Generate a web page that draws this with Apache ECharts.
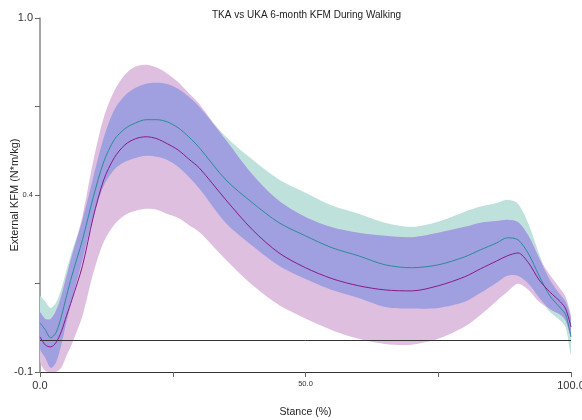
<!DOCTYPE html>
<html>
<head>
<meta charset="utf-8">
<script src="https://cdn.jsdelivr.net/npm/echarts@6/dist/echarts.min.js"></script>
<style>html,body{margin:0;padding:0;background:#fff;}#c{width:582px;height:420px;}</style>
</head>
<body>
<div id="c"></div>
<script>
// Stance (%)
var stance = [0,1,2,3,4,5,6,8,10,12,14,16,18,20,22,24,26,28,30,35,40,45,50,55,60,65,70,75,80,83,86,88,90,92,94,96,98,99,100];
// TKA (teal) mean and SD
var tkaMean = [0.053,0.031,0.006,0.022,0.071,0.137,0.199,0.311,0.441,0.553,0.622,0.656,0.674,0.684,0.684,0.677,0.659,0.631,0.597,0.497,0.426,0.364,0.323,0.286,0.261,0.233,0.224,0.233,0.258,0.280,0.301,0.317,0.311,0.267,0.199,0.137,0.099,0.078,0.009];
var tkaSD = [0.081,0.087,0.093,0.093,0.087,0.081,0.075,0.062,0.062,0.075,0.093,0.103,0.109,0.112,0.115,0.118,0.121,0.124,0.127,0.134,0.134,0.134,0.134,0.131,0.131,0.131,0.127,0.134,0.140,0.134,0.124,0.118,0.112,0.093,0.068,0.050,0.040,0.040,0.056];
// UKA (purple) mean and SD
var ukaMean = [0.009,-0.016,-0.022,-0.009,0.025,0.075,0.124,0.230,0.379,0.497,0.566,0.606,0.625,0.631,0.625,0.609,0.590,0.562,0.534,0.435,0.342,0.270,0.224,0.190,0.168,0.155,0.152,0.168,0.196,0.221,0.245,0.261,0.270,0.239,0.186,0.149,0.118,0.096,0.040];
var ukaSD = [0.075,0.081,0.087,0.099,0.112,0.124,0.137,0.155,0.174,0.193,0.208,0.218,0.224,0.224,0.221,0.218,0.211,0.205,0.199,0.186,0.172,0.162,0.158,0.160,0.165,0.168,0.167,0.165,0.155,0.143,0.124,0.112,0.096,0.084,0.068,0.053,0.040,0.037,0.031];
// axis tick labels
var yTickValues = [-0.1, 0.175, 0.45, 0.725, 1.0];
var yTickLabels = {'-0.1':'{b|-0.1}', '0.45':'{s|0.4}', '1':'{b|1.0}'};
var xTickValues = [0, 25, 50, 75, 100];
var xTickLabels = {'0':'{b|0.0}', '50':'{s|50.0}', '100':'{b|100.0}'};

var YMIN = -0.1, YMAX = 1.0;
var tkaLo = [], tkaHi = [], ukaLo = [], ukaHi = [], ovLo = [], ovHi = [];
for (var i = 0; i < stance.length; i++) {
  var a1 = tkaMean[i] - tkaSD[i], a2 = tkaMean[i] + tkaSD[i];
  var b1 = ukaMean[i] - ukaSD[i], b2 = ukaMean[i] + ukaSD[i];
  tkaLo.push(a1); tkaHi.push(a2); ukaLo.push(b1); ukaHi.push(b2);
  var lo = Math.max(a1, b1), hi = Math.min(a2, b2);
  if (hi < lo) { var m = (hi + lo) / 2; hi = m; lo = m; }
  ovLo.push(lo); ovHi.push(hi);
}
function pairs(arr) { return stance.map(function (x, i) { return [x, arr[i]]; }); }
var SM = 0.3;
function band(name, hi, lo, color, z) {
  return {
    name: name, type: 'custom', silent: true, z: z, clip: true,
    data: [0],
    renderItem: function (params, api) {
      var pts = [];
      for (var k = 0; k < stance.length; k++) {
        pts.push(api.coord([stance[k], Math.min(YMAX, Math.max(YMIN, hi[k]))]));
      }
      for (var k2 = stance.length - 1; k2 >= 0; k2--) {
        pts.push(api.coord([stance[k2], Math.min(YMAX, Math.max(YMIN, lo[k2]))]));
      }
      return {type: 'polygon', shape: {points: pts, smooth: SM}, style: {fill: color, stroke: null}};
    }
  };
}

var chart = echarts.init(document.getElementById('c'), null, {renderer: 'canvas'});
chart.setOption({
  animation: false,
  backgroundColor: '#ffffff',
  title: {text: 'TKA vs UKA 6-month KFM During Walking', left: 207, top: 5,
    textStyle: {fontFamily: 'Liberation Sans', fontSize: 10, fontWeight: 'normal', color: '#222'}},
  grid: {left: 40, right: 11, top: 18, bottom: 48, outerBoundsMode: 'none', containLabel: false},
  xAxis: {type: 'value', min: 0, max: 100,
    name: 'Stance (%)', nameLocation: 'middle', nameGap: 35, nameMoveOverlap: false,
    nameTextStyle: {fontFamily: 'Liberation Sans', fontSize: 10.5, color: '#222'},
    axisLine: {onZero: false, lineStyle: {color: '#333', width: 1}},
    axisTick: {show: true, length: 5, lineStyle: {color: '#666'}, customValues: xTickValues},
    axisLabel: {customValues: xTickValues, margin: 8, color: '#333',
      formatter: function (v) { return xTickLabels[String(v)] || ''; },
      rich: {b: {fontFamily: 'Liberation Sans', fontSize: 11, color: '#333'}, s: {fontFamily: 'Liberation Sans', fontSize: 7.5, color: '#333'}}},
    splitLine: {show: false}},
  yAxis: {type: 'value', min: YMIN, max: YMAX,
    name: 'External KFM (N*m/kg)', nameLocation: 'middle', nameGap: 20, nameRotate: 90, nameMoveOverlap: false,
    nameTextStyle: {fontFamily: 'Liberation Sans', fontSize: 11, color: '#222'},
    axisLine: {show: true, onZero: false, lineStyle: {color: '#888', width: 1.5}},
    axisTick: {show: true, length: 5, lineStyle: {color: '#666'}, customValues: yTickValues},
    axisLabel: {customValues: yTickValues, margin: 7, color: '#333',
      formatter: function (v) { var k = String(Math.round(v * 1000) / 1000); return yTickLabels[k] || ''; },
      rich: {b: {fontFamily: 'Liberation Sans', fontSize: 11, color: '#333'}, s: {fontFamily: 'Liberation Sans', fontSize: 7.5, color: '#333'}}},
    splitLine: {show: false}},
  series: [
    band('TKA SD', tkaHi, tkaLo, '#bfe1dc', 2),
    band('UKA SD', ukaHi, ukaLo, '#dfbfdf', 3),
    band('Overlap', ovHi, ovLo, '#a09fdf', 4),
    {name: 'TKA', type: 'line', data: pairs(tkaMean), symbol: 'none', smooth: SM, z: 6,
      lineStyle: {color: '#2a8c98', width: 1}},
    {name: 'UKA', type: 'line', data: pairs(ukaMean), symbol: 'none', smooth: SM, z: 6,
      lineStyle: {color: '#8b1a8b', width: 1},
      markLine: {silent: true, symbol: 'none', label: {show: false}, lineStyle: {color: '#333', width: 1, type: 'solid'},
        data: [{yAxis: 0}]}}
  ]
});
</script>
</body>
</html>
